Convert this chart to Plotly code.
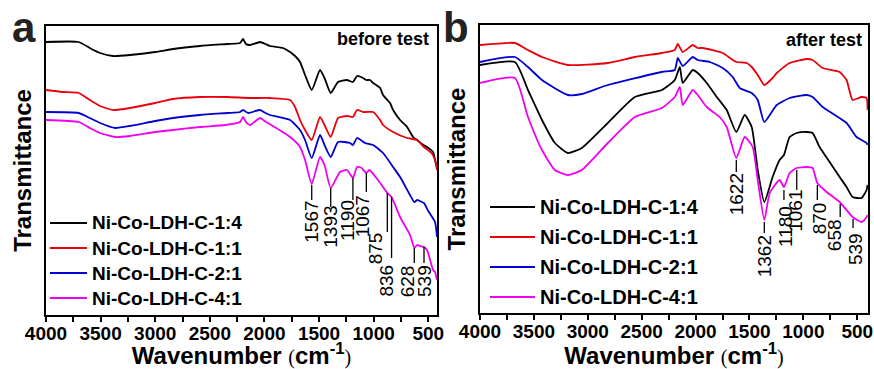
import plotly.graph_objects as go

# ---------------- data: panel a (before test) ----------------
wn_a_14 = [4000, 3700, 3600, 3505, 3386, 3231, 3000, 2837, 2590, 2342, 2223, 2196, 2170, 2132, 2040, 1990, 1949, 1830, 1765, 1720,
           1674, 1628, 1567, 1491, 1450, 1393, 1326, 1244, 1190, 1152, 1097, 1067, 1033, 1005, 941, 914, 850, 822, 758, 694,
           639, 602, 557, 511, 456, 438, 420]
t_a_14 = [273, 273, 267, 262, 259, 260, 263, 266, 269, 271, 272, 276, 271, 270, 273, 271, 269, 267, 263, 259,
          253, 240, 225, 245, 237, 222, 233, 235, 233, 239, 237, 235, 235, 232, 227, 220, 212, 205, 195, 188,
          178, 175, 171, 168, 163, 155, 148]

wn_a_11 = [4000, 3850, 3700, 3600, 3505, 3386, 3231, 3000, 2837, 2590, 2342, 2132, 1949, 1765, 1720, 1674, 1628, 1567, 1491, 1450,
           1393, 1326, 1244, 1190, 1152, 1097, 1067, 1005, 941, 914, 822, 694, 602, 540, 470, 438, 420]
t_a_11 = [225, 223, 222, 215, 209, 205, 207, 212, 216, 218, 218, 217, 217, 215, 208, 195, 185, 175, 198, 190,
          178, 197, 199, 198, 205, 203, 203, 203, 195, 190, 183, 177, 175, 168, 162, 155, 145]

wn_a_21 = [4000, 3700, 3600, 3505, 3368, 3231, 3000, 2837, 2590, 2342, 2223, 2196, 2150, 2040, 1990, 1949, 1765, 1674, 1628, 1567,
           1491, 1450, 1393, 1326, 1216, 1190, 1152, 1079, 1005, 914, 822, 758, 667, 628, 600, 560, 539, 500, 438, 420]
t_a_21 = [203, 202, 197, 192, 187, 189, 194, 197, 200, 202, 203, 205, 202, 205, 202, 200, 195, 185, 175, 157,
          180, 170, 158, 173, 172, 170, 177, 172, 170, 162, 148, 138, 120, 113, 115, 113, 112, 104, 93, 78]

wn_a_41 = [4000, 3700, 3600, 3505, 3368, 3231, 3000, 2837, 2590, 2359, 2223, 2196, 2170, 2132, 2040, 2000, 1968, 1765, 1674, 1628,
           1567, 1491, 1450, 1393, 1308, 1244, 1190, 1152, 1110, 1067, 1040, 960, 875, 836, 758, 667, 628, 602, 575, 539,
           511, 456, 438, 420]
t_a_41 = [195, 193, 187, 182, 178, 179, 183, 185, 188, 190, 193, 198, 193, 190, 197, 194, 192, 178, 168, 155,
          131, 158, 150, 127, 143, 145, 137, 148, 147, 142, 145, 135, 122, 118, 98, 80, 67, 70, 69, 68,
          65, 45, 43, 35]

# ---------------- data: panel b (after test) ----------------
wn_b_14 = [4000, 3676, 3555, 3425, 3305, 3184, 3055, 2814, 2563, 2313, 2193, 2146, 2119, 2026, 1980, 1896, 1803, 1711, 1622, 1544,
           1479, 1423, 1362, 1285, 1220, 1180, 1127, 1062, 969, 914, 849, 756, 663, 599, 543, 460, 413, 404]
t_b_14 = [248, 251, 223, 193, 170, 160, 165, 190, 216, 223, 233, 246, 230, 243, 240, 230, 216, 203, 181, 198,
          186, 143, 111, 136, 153, 158, 176, 180, 181, 180, 166, 151, 136, 126, 116, 115, 123, 128]

wn_b_11 = [4000, 3676, 3555, 3425, 3184, 2814, 2563, 2313, 2193, 2165, 2119, 2026, 1980, 1933, 1748, 1655, 1618, 1525, 1479, 1423,
           1362, 1285, 1247, 1127, 969, 914, 821, 663, 599, 543, 460, 413, 404]
t_b_11 = [268, 270, 263, 256, 248, 250, 256, 260, 263, 269, 261, 268, 265, 265, 260, 253, 251, 250, 246, 238,
          228, 235, 240, 250, 254, 253, 245, 241, 233, 213, 216, 215, 203]

wn_b_21 = [4000, 3676, 3555, 3425, 3184, 3055, 2814, 2313, 2193, 2165, 2119, 2026, 1980, 1868, 1748, 1655, 1590, 1479, 1423, 1362,
           1247, 1127, 969, 914, 821, 599, 506, 413, 404]
t_b_21 = [251, 256, 246, 233, 218, 219, 228, 241, 243, 255, 247, 256, 253, 251, 245, 236, 225, 220, 213, 191,
          208, 215, 218, 216, 206, 190, 176, 170, 168]

wn_b_41 = [4000, 3676, 3555, 3425, 3305, 3184, 3055, 2814, 2563, 2313, 2193, 2146, 2119, 2026, 1980, 1896, 1776, 1711, 1622, 1544,
           1470, 1423, 1362, 1312, 1220, 1180, 1127, 1062, 969, 914, 870, 784, 663, 543, 460, 413, 404]
t_b_41 = [230, 235, 196, 163, 143, 138, 143, 170, 196, 205, 216, 226, 208, 223, 218, 206, 196, 186, 155, 176,
          166, 133, 93, 120, 133, 126, 140, 145, 146, 145, 130, 121, 111, 96, 91, 96, 98]

series_names = ["Ni-Co-LDH-C-1:4", "Ni-Co-LDH-C-1:1", "Ni-Co-LDH-C-2:1", "Ni-Co-LDH-C-4:1"]
tick_vals = [4000, 3500, 3000, 2500, 2000, 1500, 1000, 500]

peaks_a = [1567, 1393, 1190, 1067, 875, 836, 628, 539]
peaks_b = [1622, 1362, 1180, 1061, 870, 658, 539]

# ---------------- styling / layout helpers ----------------
colors = ["#000000", "#e8000b", "#0000d0", "#f000f0"]
FONT = "Arial, Liberation Sans, sans-serif"

# label geometry (line top, line bottom, text centre in data units; x pixel shift)
geom_a = [(130, 115, 93, 0), (127, 108, 88, 0), (137, 115, 95, -5), (142, 123, 99, -3),
          (122, 83, 67, -11), (118, 57, 34, -6), (67, 52, 34, -7), (68, 52, 34, 0)]
geom_b = [(153, 141, 119, 0), (91, 80, 57, 0), (123, 113, 87, 1), (143, 123, 102, -2),
          (128, 113, 95, 2), (109, 96, 78, -6), (94, 85, 64, 2)]

# manual legend geometry in pixels: (line x0, line x1, text x, first row y, row step, font size)
leg_a = (50, 87, 90, 223, 25, 19)
leg_b = (490, 535, 538, 207, 30, 20)

W, H = 874, 369
def px(x):
    return x / W
def py(y):
    return 1 - y / H

fig = go.Figure()

panel_a = [(wn_a_14, t_a_14), (wn_a_11, t_a_11), (wn_a_21, t_a_21), (wn_a_41, t_a_41)]
panel_b = [(wn_b_14, t_b_14), (wn_b_11, t_b_11), (wn_b_21, t_b_21), (wn_b_41, t_b_41)]

for i, (wx, ty) in enumerate(panel_a):
    fig.add_trace(go.Scatter(x=wx, y=ty, mode="lines", name=series_names[i], showlegend=False,
                             line=dict(color=colors[i], width=1.8, shape="spline", smoothing=0.5),
                             xaxis="x", yaxis="y"))
for i, (wx, ty) in enumerate(panel_b):
    fig.add_trace(go.Scatter(x=wx, y=ty, mode="lines", name=series_names[i], showlegend=False,
                             line=dict(color=colors[i], width=1.8, shape="spline", smoothing=0.5),
                             xaxis="x2", yaxis="y2"))

paren = "<span style='font-family:Liberation Serif;font-weight:normal;font-size:20px'>%s</span>"
xcommon = dict(
    tickmode="array", tickvals=tick_vals, ticks="outside", ticklen=5, tickwidth=1.5, tickcolor="black",
    ticklabelstandoff=-5,
    minor=dict(tickmode="linear", tick0=250, dtick=250, ticks="outside", ticklen=5, tickwidth=1.5, tickcolor="black"),
    showline=True, linewidth=2, linecolor="black", mirror=True, showgrid=False, zeroline=False,
    tickfont=dict(family=FONT, size=19, color="black", weight="bold"),
    title=dict(text="Wavenumber " + paren % "(" + "cm<sup>-1</sup>" + paren % ")",
               font=dict(family=FONT, size=24, color="black", weight="bold"), standoff=12),
    automargin=False,
)
ycommon = dict(
    showticklabels=False, ticks="", showline=True, linewidth=2, linecolor="black", mirror=True,
    showgrid=False, zeroline=False, automargin=False,
    title=dict(text="Transmittance", font=dict(family=FONT, size=24, color="black", weight="bold"), standoff=6),
)

fig.update_layout(
    width=W, height=H,
    margin=dict(l=0, r=0, t=0, b=0),
    paper_bgcolor="white", plot_bgcolor="white",
    xaxis=dict(domain=[px(46), px(437)], range=[4000, 420], anchor="y", **xcommon),
    yaxis=dict(domain=[py(315), py(26)], range=[0, 289], anchor="x", **ycommon),
    xaxis2=dict(domain=[px(480), px(868)], range=[4000, 400], anchor="y2", **xcommon),
    yaxis2=dict(domain=[py(313), py(25)], range=[0, 288], anchor="x2", **ycommon),
    showlegend=False,
)

# manual legends
for (x0, x1, tx, y0, step, fs) in (leg_a, leg_b):
    for i, name in enumerate(series_names):
        yy = y0 + i * step
        fig.add_shape(type="line", xref="paper", yref="paper", x0=px(x0), x1=px(x1), y0=py(yy), y1=py(yy),
                      line=dict(color=colors[i], width=2.2))
        fig.add_annotation(x=px(tx), y=py(yy), xref="paper", yref="paper", text=name, showarrow=False,
                           xanchor="left", yanchor="middle",
                           font=dict(family=FONT, size=fs, color="black", weight="bold"))

# peak marker lines and labels
def add_labels(peaks, geom, xref, yref):
    for p, (top, bot, tc, dx) in zip(peaks, geom):
        fig.add_shape(type="line", xref=xref, yref=yref, x0=p, x1=p, y0=top, y1=bot,
                      line=dict(color="black", width=1.3))
        fig.add_annotation(x=p, y=tc, xref=xref, yref=yref, text=str(p), showarrow=False,
                           textangle=-90, xanchor="center", yanchor="middle", xshift=dx,
                           font=dict(family=FONT, size=19, color="black"))

add_labels(peaks_a, geom_a, "x", "y")
add_labels(peaks_b, geom_b, "x2", "y2")

# panel letters and captions
fig.add_annotation(x=px(10), y=py(28), xref="paper", yref="paper", text="a", showarrow=False,
                   xanchor="left", yanchor="middle", font=dict(family=FONT, size=42, color="#222", weight="bold"))
fig.add_annotation(x=px(441), y=py(28), xref="paper", yref="paper", text="b", showarrow=False,
                   xanchor="left", yanchor="middle", font=dict(family=FONT, size=42, color="#222", weight="bold"))
fig.add_annotation(x=px(431), y=py(39), xref="paper", yref="paper", text="before test", showarrow=False,
                   xanchor="right", yanchor="middle", font=dict(family=FONT, size=18, color="black", weight="bold"))
fig.add_annotation(x=px(864), y=py(40), xref="paper", yref="paper", text="after test", showarrow=False,
                   xanchor="right", yanchor="middle", font=dict(family=FONT, size=18, color="black", weight="bold"))

fig.write_html("out.html", config={"displayModeBar": False},
               post_script="document.body.style.margin='0';document.body.style.overflow='hidden';")
